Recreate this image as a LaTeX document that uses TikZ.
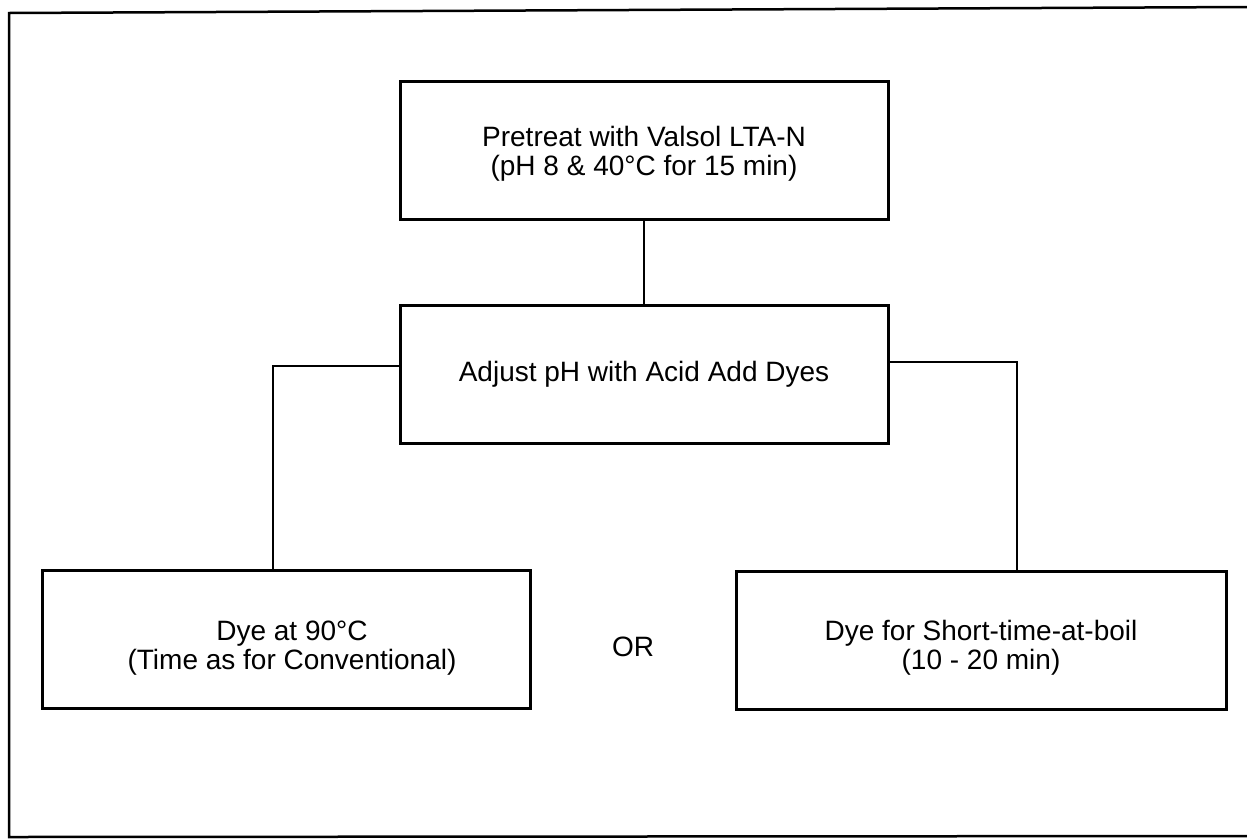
\documentclass[tikz,border=0pt]{standalone}
\usepackage{fontspec}
\setmainfont{Liberation Sans}
\tikzset{
  procbox/.style={draw=black, line width=3pt, minimum width=488pt, minimum height=138pt,
    inner sep=0pt, align=center, font=\fontsize{28}{29}\selectfont},
  link/.style={draw=black, line width=2pt},
  frameline/.style={draw=black, line width=2.5pt}
}
\begin{document}
\begin{tikzpicture}[x=1pt,y=-1pt]
\useasboundingbox (0,0) rectangle (1247,839);
\draw[frameline] (1247,7) -- (9,13) -- (9,837) -- (1247,836);
\node[procbox] (top) at (644,150) {};
\node[align=center, font=\fontsize{28}{29}\selectfont, inner sep=0pt] (toptxt) at (644,154) {Pretreat with Valsol LTA-N\\(pH 8 \& 40°C for 15 min)};
\node[procbox] (mid) at (644,374) {Adjust pH with Acid Add Dyes};
\node[procbox] (left) at (286,639) {};
\node[align=center, font=\fontsize{28}{29}\selectfont, inner sep=0pt] (lefttxt) at (292,648) {Dye at 90°C\\(Time as for Conventional)};
\node[procbox, minimum width=490pt] (right) at (981,640) {};
\node[align=center, font=\fontsize{28}{29}\selectfont, inner sep=0pt] (righttxt) at (981,648) {Dye for Short-time-at-boil\\(10 - 20 min)};
\node[font=\fontsize{28}{29}\selectfont] (or) at (633,647) {OR};
\coordinate (lj) at (273,366);
\coordinate (rj) at (1017,362);
\draw[link] (top.south) -- (mid.north);
\draw[link] (mid.west |- lj) -- (lj) -- (lj |- left.north);
\draw[link] (mid.east |- rj) -- (rj) -- (rj |- right.north);
\end{tikzpicture}
\end{document}
